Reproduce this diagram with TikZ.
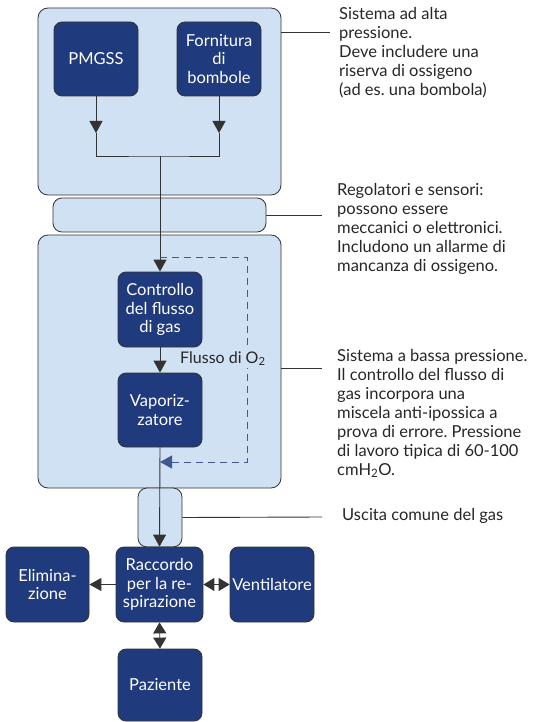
\documentclass[tikz,border=0pt]{standalone}
\usepackage{fontspec}
\setmainfont{Lato}
\usetikzlibrary{positioning, calc, arrows.meta}
\definecolor{Navy}{HTML}{1F3A7D}
\definecolor{Pale}{HTML}{D0E1F4}
\definecolor{Edge}{HTML}{333333}
\tikzset{
    blocco/.style={rectangle, rounded corners=8pt, fill=Navy, draw=Edge, line width=0.8pt, text=white, align=center, inner sep=0pt, minimum width=84pt, minimum height=74pt, font=\fontsize{16.5}{18.3}\selectfont},
    pannello/.style={rectangle, rounded corners=10pt, fill=Pale, draw=Edge, line width=0.8pt, inner sep=0pt},
    nota/.style={anchor=north west, inner sep=0pt, align=left, text=black!85, font=\fontsize{16.5}{19}\selectfont},
    freccia/.style={-{Triangle[width=13pt,length=12pt]}, line width=0.9pt, color=Edge},
    doppia/.style={{Triangle[width=13pt,length=11pt]}-{Triangle[width=13pt,length=11pt]}, line width=0.9pt, color=Edge},
    linea/.style={line width=0.9pt, color=Edge},
    ritorno/.style={-{Triangle[width=13pt,length=12pt]}, line width=0.9pt, color=Navy!85, dash pattern=on 7pt off 5pt},
}
\begin{document}
\begin{tikzpicture}[x=1pt, y=-1pt]
    \useasboundingbox (0,0) rectangle (533,722);

    % Pannelli di sfondo
    \node[pannello, minimum width=243pt, minimum height=187pt] (alta) at (159.5,101.5) {};
    \node[pannello, minimum width=213pt, minimum height=34pt, rounded corners=9pt] (regol) at (159.5,215) {};
    \node[pannello, minimum width=243pt, minimum height=253pt] (bassa) at (159.5,361.5) {};
    \node[pannello, minimum width=44pt, minimum height=59pt, rounded corners=9pt] (uscita) at (160,517.5) {};

    % Blocchi principali
    \node[blocco] (pmgss) at (96,59) {PMGSS};
    \node[blocco] (bombole) at (219,59) {Fornitura\\di\\bombole};
    \node[blocco, minimum height=75pt] (controllo) at (160,309.5) {Controllo\\del flusso\\di gas};
    \node[blocco] (vapor) at (160,410) {Vaporiz-\\zatore};
    \node[blocco, minimum width=87pt, minimum height=75pt] (raccordo) at (159.5,584.5) {Raccordo\\per la re-\\spirazione};
    \node[blocco, minimum width=83pt, minimum height=75pt] (elimina) at (47.5,584.5) {Elimina-\\zione};
    \node[blocco, minimum height=75pt] (ventil) at (272,584.5) {Ventilatore};
    \node[blocco, minimum height=72pt] (paziente) at (160,685) {Paziente};

    % Punti di giunzione
    \coordinate (pA) at (96,133);
    \coordinate (bA) at (219,133);
    \coordinate (giunto) at (160,156);
    \coordinate (ramo) at (160,257);
    \coordinate (rientro) at (160,462);

    % Collegamenti
    \draw[freccia] (pmgss.south) -- (pA);
    \draw[freccia] (bombole.south) -- (bA);
    \draw[linea] (pA) |- (giunto) -| (bA);
    \draw[freccia] (giunto) -- (controllo.north);
    \draw[freccia] (controllo.south) -- (vapor.north);
    \draw[freccia] (vapor.south) -- (raccordo.north);
    \draw[ritorno] (ramo) -- (247,257) -- (247,462) -- (rientro);
    \draw[freccia] (raccordo.west) -- (elimina.east);
    \draw[doppia] (raccordo.east) -- (ventil.west);
    \draw[doppia] (raccordo.south) -- (paziente.north);
    \node[anchor=base west, inner sep=2pt, fill=Pale, text=black!85, font=\fontsize{16}{19}\selectfont] (flusso) at (178,363) {Flusso di O\textsubscript{2}};

    % Note a destra
    \node[nota] (notaAlta) at (339,7) {Sistema ad alta\\pressione.\\Deve includere una\\riserva di ossigeno\\(ad es.\ una bombola)};
    \node[nota] (notaRegol) at (337,183) {Regolatori e sensori:\\possono essere\\meccanici o elettronici.\\Includono un allarme di\\mancanza di ossigeno.};
    \node[nota] (notaBassa) at (337,349) {Sistema a bassa pressione.\\Il controllo del flusso di\\gas incorpora una\\miscela anti-ipossica a\\prova di errore.\ Pressione\\di lavoro tipica di 60-100\\cmH\textsubscript{2}O.};
    \node[nota] (notaUscita) at (342,508) {Uscita comune del gas};

    % Linee di richiamo
    \draw[linea] (alta.east |- 0,32) -- (330,32);
    \draw[linea] (regol.east) -- (322,215);
    \draw[linea] (bassa.east |- 0,368) -- (322,368);
    \draw[linea] (uscita.east) -- (322,517);
\end{tikzpicture}
\end{document}
